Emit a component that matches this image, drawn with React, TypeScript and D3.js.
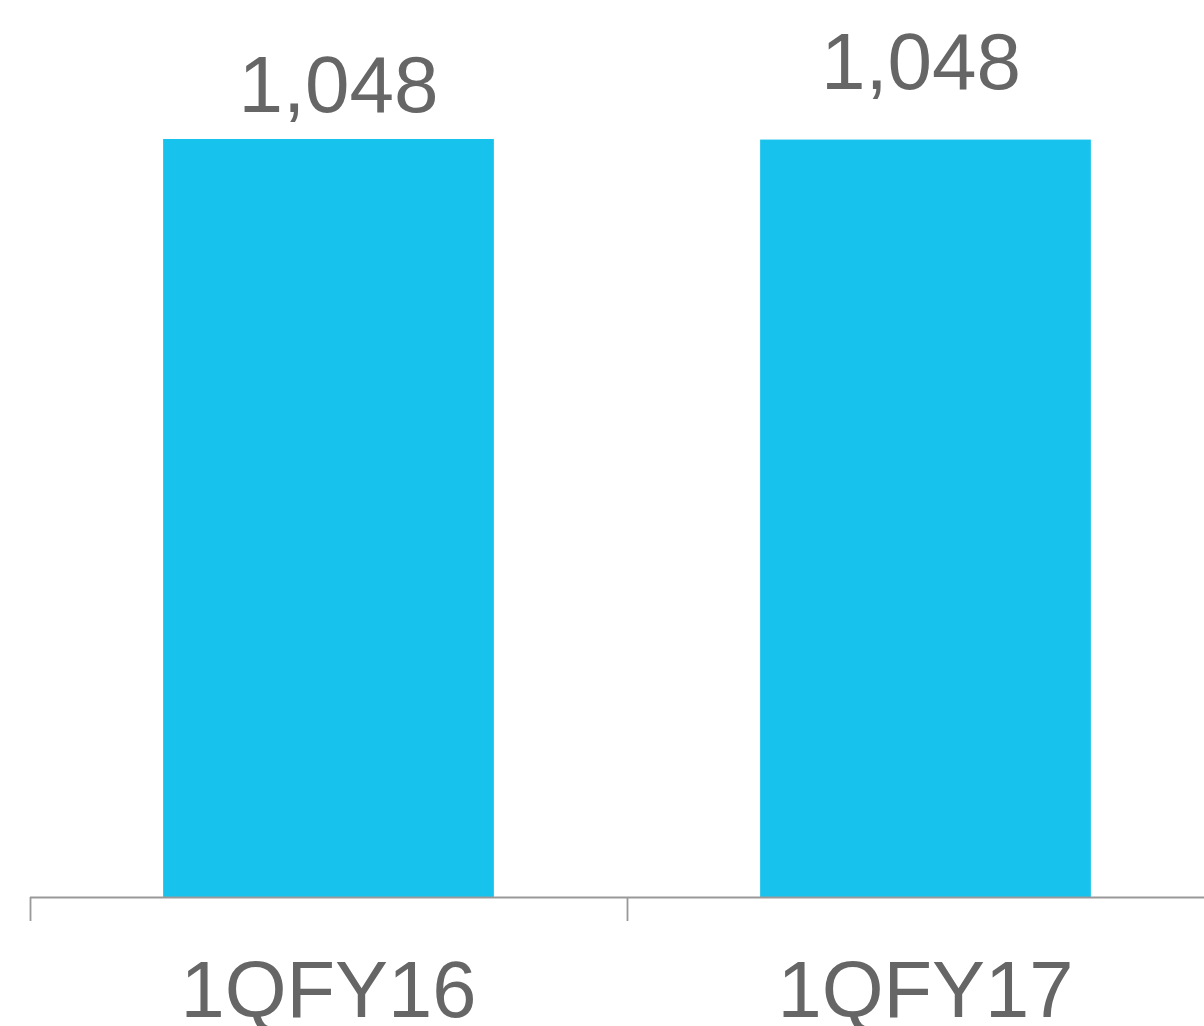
import React from "react";
import * as d3 from "d3";

const categories = ["1QFY16", "1QFY17"];
const values = [1048.4, 1047.6];
const valueLabels = ["1,048", "1,048"];

const W = 1204;
const H = 1026;
const axisLeft = 30;
const axisRight = 1224;
const baseY = 897;
const yTop = 139;
const labelOffsets = [
  { dx: 10, y: 112 },
  { dx: -4.5, y: 89 },
];

export default function App() {
  const x = d3.scaleBand<string>().domain(categories).range([axisLeft, axisRight]).paddingInner(0).paddingOuter(0);
  const y = d3.scaleLinear().domain([0, values[0]]).range([baseY, yTop]);
  const barW = x.bandwidth() * 0.554;
  const tickXs = [...categories.map((c) => x(c)!), axisRight];
  return (
    <svg width={W} height={H} style={{ position: "absolute", left: 0, top: 0 }} fontFamily="'Liberation Sans', Arial, sans-serif">
      <rect width={W} height={H} fill="#fff" />
      {categories.map((c, i) => {
        const cx = x(c)! + x.bandwidth() / 2;
        return (
          <g key={c}>
            <rect x={cx - barW / 2} y={y(values[i])} width={barW} height={baseY - y(values[i])} fill="#17C2EC" />
            <text x={cx + labelOffsets[i].dx} y={labelOffsets[i].y} textAnchor="middle" fontSize={80} fill="#666666">
              {valueLabels[i]}
            </text>
            <text x={cx} y={1017} textAnchor="middle" fontSize={79.5} fill="#666666">
              {c}
            </text>
          </g>
        );
      })}
      <line x1={axisLeft} x2={axisRight} y1={baseY + 0.5} y2={baseY + 0.5} stroke="#999999" strokeWidth={1.8} />
      {tickXs.map((tx, i) => (
        <line key={i} x1={tx + 0.5} x2={tx + 0.5} y1={baseY} y2={921} stroke="#999999" strokeWidth={1.8} />
      ))}
    </svg>
  );
}
